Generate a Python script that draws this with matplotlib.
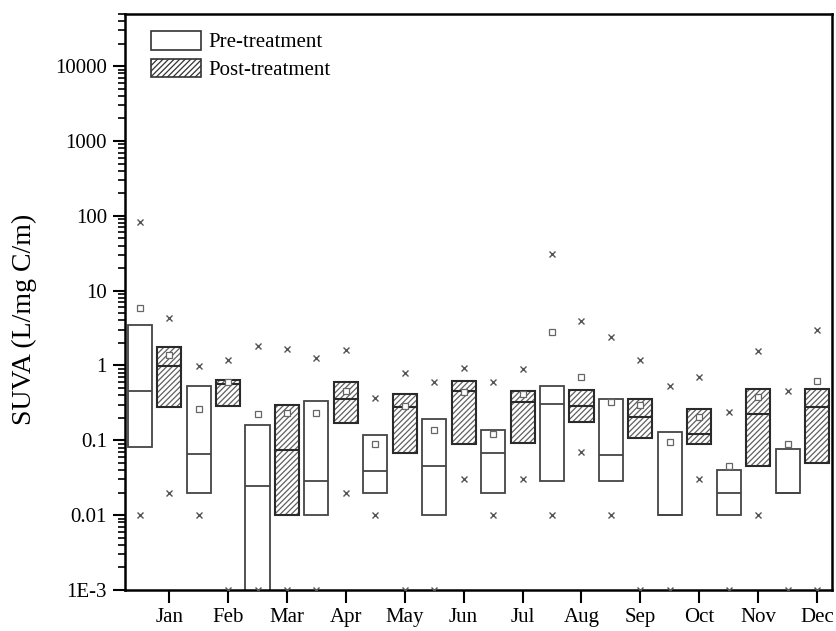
import matplotlib
matplotlib.use("Agg")
import matplotlib.pyplot as plt
from matplotlib.patches import Patch
from matplotlib.ticker import FixedLocator, FixedFormatter, LogLocator, NullFormatter

plt.rcParams["font.family"] = ["Liberation Serif", "DejaVu Serif"]
plt.rcParams["hatch.linewidth"] = 0.9

months = ["Jan", "Feb", "Mar", "Apr", "May", "Jun",
          "Jul", "Aug", "Sep", "Oct", "Nov", "Dec"]

# pre-treatment SUVA statistics per month
pre_q1 = [0.081, 0.02, 0.0005, 0.01, 0.02, 0.01, 0.02, 0.029, 0.029, 0.01, 0.01, 0.02]
pre_q3 = [3.5, 0.525, 0.16, 0.34, 0.119, 0.195, 0.139, 0.53, 0.352, 0.129, 0.04, 0.0774]
pre_med = [0.46, 0.065, 0.0245, 0.029, 0.039, 0.045, 0.0685, 0.31, 0.064, 0.01, 0.02, 0.02]
pre_mean = [5.9, 0.26, 0.227, 0.23, 0.09, 0.139, 0.123, 2.78, 0.324, 0.095, 0.045, 0.09]
pre_max = [83, 0.98, 1.81, 1.27, 0.37, 0.6, 0.61, 30.8, 2.39, 0.525, 0.239, 0.455]
pre_min = [0.01, 0.01, 0.001, 0.001, 0.01, 0.001, 0.01, 0.01, 0.01, 0.001, 0.001, 0.001]

# post-treatment SUVA statistics per month
post_q1 = [0.28, 0.284, 0.01, 0.17, 0.0685, 0.0885, 0.093, 0.175, 0.107, 0.0885, 0.045, 0.05]
post_q3 = [1.75, 0.64, 0.30, 0.6, 0.41, 0.63, 0.46, 0.474, 0.352, 0.26, 0.48, 0.48]
post_med = [0.98, 0.56, 0.0736, 0.36, 0.278, 0.46, 0.324, 0.287, 0.205, 0.123, 0.227, 0.278]
post_mean = [1.4, 0.6, 0.23, 0.46, 0.29, 0.44, 0.42, 0.70, 0.3, 0.205, 0.38, 0.63]
post_max = [4.3, 1.19, 1.67, 1.63, 0.79, 0.92, 0.9, 3.98, 1.19, 0.70, 1.55, 3.02]
post_min = [0.02, 0.001, 0.001, 0.02, 0.001, 0.03, 0.03, 0.07, 0.001, 0.03, 0.01, 0.001]

y_ticks = [1e-3, 1e-2, 1e-1, 1, 10, 100, 1000, 10000]
y_tick_labels = ["1E-3", "0.01", "0.1", "1", "10", "100", "1000", "10000"]

fig = plt.figure(figsize=(8.36, 6.31), dpi=100)
ax = fig.add_axes([0.1495, 0.065, 0.8455, 0.913])

n = len(months)
pos_post = list(range(1, n + 1))
pos_pre = [p - 0.5 for p in pos_post]
w = 0.41


def draw_group(pos, q1, q3, med, mean, vmax, vmin, hatch, edge, lw):
    heights = [b - a for a, b in zip(q1, q3)]
    if hatch:
        # hatch in a lighter grey, outline drawn separately on top
        ax.bar(pos, heights, bottom=q1, width=w, facecolor="white",
               edgecolor="#606060", linewidth=0, hatch=hatch, zorder=2)
        ax.bar(pos, heights, bottom=q1, width=w, fill=False,
               edgecolor=edge, linewidth=lw, zorder=2.5)
    else:
        ax.bar(pos, heights, bottom=q1, width=w, facecolor="white",
               edgecolor=edge, linewidth=lw, zorder=2)
    ax.hlines(med, [p - w / 2 for p in pos], [p + w / 2 for p in pos],
              color=edge, linewidth=lw, zorder=3)
    ax.plot(pos, mean, linestyle="none", marker="s", markersize=4.5,
            markerfacecolor="white", markeredgecolor="#666666",
            markeredgewidth=0.9, zorder=4)
    ax.plot(pos, vmax, linestyle="none", marker="x", markersize=5,
            color="#555555", markeredgewidth=1.0, zorder=4)
    ax.plot(pos, vmin, linestyle="none", marker="x", markersize=5,
            color="#555555", markeredgewidth=1.0, zorder=4)


draw_group(pos_pre, pre_q1, pre_q3, pre_med, pre_mean, pre_max, pre_min,
           None, "#444444", 1.3)
draw_group(pos_post, post_q1, post_q3, post_med, post_mean, post_max, post_min,
           "//////", "#2a2a2a", 1.5)

ax.set_yscale("log")
ax.set_ylim(1e-3, 5e4)
ax.set_xlim(0.25, 12.25)

ax.yaxis.set_major_locator(FixedLocator(y_ticks))
ax.yaxis.set_major_formatter(FixedFormatter(y_tick_labels))
ax.yaxis.set_minor_locator(LogLocator(base=10, subs=range(2, 10), numticks=20))
ax.yaxis.set_minor_formatter(NullFormatter())

ax.set_xticks(pos_post)
ax.set_xticklabels(months)

ax.tick_params(axis="both", which="major", direction="out", length=9,
               width=1.5, labelsize=15, pad=4)
ax.tick_params(axis="y", which="minor", direction="out", length=5, width=1.2)
for sp in ax.spines.values():
    sp.set_linewidth(1.8)

ax.set_ylabel("SUVA (L/mg C/m)", fontsize=20)
ax.yaxis.set_label_coords(-0.124, 0.469)

handles = [
    Patch(facecolor="white", edgecolor="#333333", linewidth=1.2, label="Pre-treatment"),
    Patch(facecolor="white", edgecolor="#333333", linewidth=1.2, hatch="//////",
          label="Post-treatment"),
]
ax.legend(handles=handles, loc="upper left", bbox_to_anchor=(0.01, 1.003),
          frameon=False, fontsize=15, handlelength=2.4, handleheight=1.0,
          handletextpad=0.35, labelspacing=0.3)

fig.savefig("out.png", dpi=100)
